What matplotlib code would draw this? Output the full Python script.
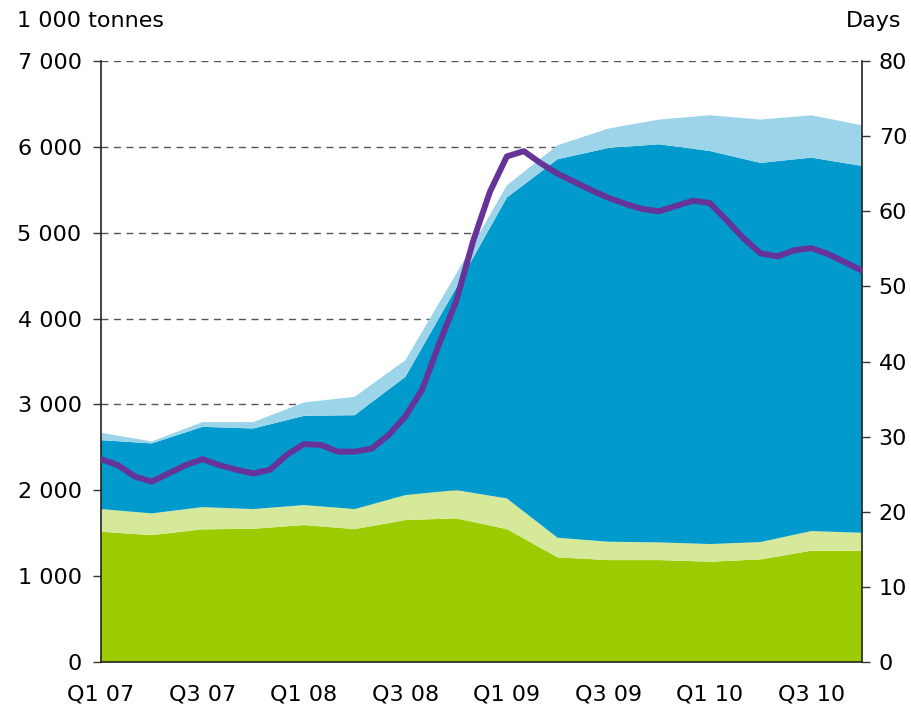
import matplotlib
matplotlib.use("Agg")
import matplotlib.pyplot as plt
import numpy as np
from matplotlib.ticker import FuncFormatter

plt.rcParams['font.family'] = ['DejaVu Sans']

quarters = ["Q1 07", "Q2 07", "Q3 07", "Q4 07", "Q1 08", "Q2 08", "Q3 08", "Q4 08",
            "Q1 09", "Q2 09", "Q3 09", "Q4 09", "Q1 10", "Q2 10", "Q3 10", "Q4 10"]

green = [1517, 1478, 1545, 1552, 1595, 1548, 1653, 1673, 1548, 1219, 1187, 1187, 1168, 1195, 1296, 1296]
light_green = [264, 253, 259, 229, 233, 233, 291, 329, 357, 228, 214, 206, 206, 202, 229, 209]
blue = [803, 815, 935, 939, 1039, 1094, 1378, 2353, 3505, 4409, 4586, 4637, 4578, 4416, 4350, 4273]
light_blue = [86, 23, 55, 74, 156, 214, 194, 165, 143, 163, 226, 288, 416, 505, 493, 473]

# monthly days series (right axis)
days = [27.0, 26.2, 24.7, 24.0, 25.1, 26.2, 27.0, 26.2, 25.6, 25.1, 25.6, 27.6,
        29.0, 28.9, 28.0, 28.0, 28.4, 30.2, 32.7, 36.3, 42.4, 48.0, 56.0, 62.6,
        67.3, 68.0, 66.4, 65.0, 63.9, 62.8, 61.8, 61.0, 60.3, 60.0, 60.7, 61.4,
        61.1, 58.8, 56.4, 54.4, 54.0, 54.8, 55.1, 54.3, 53.2, 52.1]

c_green = "#9ccc00"
c_lgreen = "#d6e99a"
c_blue = "#009bcc"
c_lblue = "#9cd5ea"
c_purple = "#663399"

FS = 16

fig = plt.figure(figsize=(9.12, 7.09), dpi=100)
ax = fig.add_axes([101/912, 1-662/709, 761/912, 601/709])

xq = np.arange(len(quarters))
ax.stackplot(xq, green, light_green, blue, light_blue,
             colors=[c_green, c_lgreen, c_blue, c_lblue], linewidth=0, zorder=2)

ax.set_xlim(0, len(quarters) - 1)
ax.set_ylim(0, 7000)
ax.set_yticks(np.arange(0, 7001, 1000))
ax.yaxis.set_major_formatter(FuncFormatter(lambda v, p: f"{int(v):,}".replace(",", " ")))
ax.set_xticks(xq[::2])
ax.set_xticklabels(quarters[::2])
ax.tick_params(axis='x', length=0, pad=16, labelsize=FS)
ax.tick_params(axis='y', direction='out', length=6, width=1, labelsize=FS, pad=8, color='#333333')

for v in range(1000, 7001, 1000):
    ax.axhline(v, color='#555555', lw=1, ls=(0, (5, 4)), zorder=1)

ax.spines['top'].set_visible(False)
for s in ['left', 'bottom']:
    ax.spines[s].set_color('#222222')
    ax.spines[s].set_linewidth(1.2)
ax.spines['right'].set_visible(False)

ax2 = ax.twinx()
xm = np.arange(len(days)) / 3.0
ax2.plot(xm, days, color=c_purple, lw=4.3, solid_capstyle='round', solid_joinstyle='round', zorder=5)
ax2.set_ylim(0, 80)
ax2.set_yticks(np.arange(0, 81, 10))
ax2.tick_params(axis='y', direction='out', length=6, width=1, labelsize=FS, pad=6, color='#333333')
ax2.spines['top'].set_visible(False)
ax2.spines['left'].set_visible(False)
ax2.spines['bottom'].set_visible(False)
ax2.spines['right'].set_color('#222222')
ax2.spines['right'].set_linewidth(1.2)
ax2.set_xlim(0, len(quarters) - 1)

fig.text(17/912, 1-27/709, "1 000 tonnes", fontsize=FS, ha='left', va='baseline')
fig.text(901/912, 1-27/709, "Days", fontsize=FS, ha='right', va='baseline')

fig.savefig("out.png", dpi=100)
